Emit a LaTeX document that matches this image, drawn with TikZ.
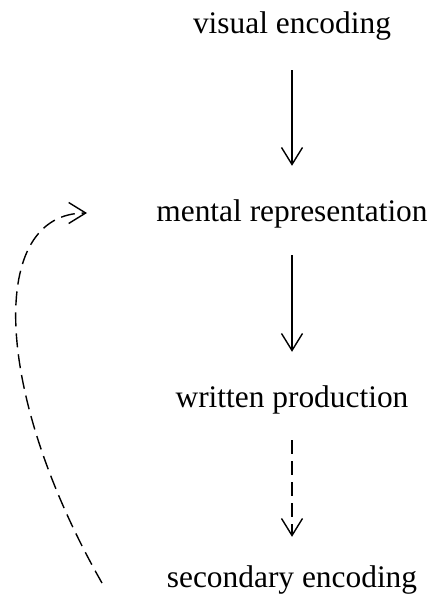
\documentclass[tikz,border=0pt]{standalone}
\usepackage{fontspec}
\setmainfont{Liberation Serif}
\usetikzlibrary{arrows.meta}
\begin{document}
\begin{tikzpicture}[x=1pt,y=-1pt,
  lbl/.style={inner sep=0pt,anchor=base,text height=21pt,text depth=7pt,font=\fontsize{31.4pt}{36pt}\selectfont},
  conn/.style={line width=1.4pt,-{Straight Barb[length=17pt,width=21pt,line width=1.4pt]}},
  dsh/.style={dash pattern=on 14pt off 7pt}]
\useasboundingbox (0,0) rectangle (432,599);
\node[lbl] (ve) at (292,34) {visual encoding};
\node[lbl] (mr) at (292,221) {mental representation};
\node[lbl] (wp) at (292,407) {written production};
\node[lbl] (se) at (292,587) {secondary encoding};
\draw[conn,shorten <=29pt,shorten >=34pt] (ve) -- (mr);
\draw[conn,shorten <=27pt,shorten >=34pt] (mr) -- (wp);
\draw[conn,dsh,shorten <=26pt,shorten >=29pt] (wp) -- (se);
\coordinate (fbs) at (102,583);
\coordinate (fbe) at (87,213);
\draw[conn,dsh] (fbs) .. controls (-8,390) and (-12,213) .. (fbe);
\end{tikzpicture}
\end{document}
